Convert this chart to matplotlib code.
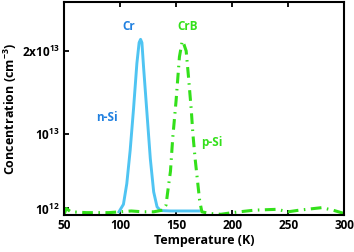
import numpy as np
import matplotlib
matplotlib.use('Agg')
import matplotlib.pyplot as plt

plt.rcParams['font.family'] = ['Open Sans', 'DejaVu Sans']
plt.rcParams['font.weight'] = 'bold'
plt.rcParams['mathtext.fontset'] = 'custom'
plt.rcParams['mathtext.bf'] = 'Open Sans:bold'
plt.rcParams['mathtext.rm'] = 'Open Sans:bold'

# Cr in n-Si (values in 1e12 cm^-3)
cr_t = [99, 103, 106, 109, 112, 115, 117, 118.3, 119.5, 121, 124, 127, 130, 133, 136, 145, 170]
cr_c = [0.6, 1.5, 4, 8, 13, 18.5, 21.0, 21.4, 21.0, 18, 12.5, 7, 3, 1.2, 0.75, 0.7, 0.7]

# CrB in p-Si (values in 1e12 cm^-3)
crb_t = [50, 52, 56, 70, 90, 100, 110, 120, 130, 138, 141, 143, 145, 147, 150, 153, 155.5,
         157, 159, 161, 163.5, 165, 167, 169, 171, 173, 180, 190, 200, 220, 240, 250, 260,
         280, 290, 300]
crb_c = [0.3, 1.0, 0.6, 0.5, 0.5, 0.6, 0.7, 0.6, 0.6, 0.8, 1.4, 3.5, 5.5, 9.5, 14, 19.3, 21.2,
         20.8, 20, 17, 13, 10, 7, 4.5, 2, 0.6, 0.4, 0.3, 0.5, 0.8, 0.9, 0.6, 0.8,
         1.1, 0.8, 0.4]

xticks = [50, 100, 150, 200, 250, 300]
yticks = [1e12, 1e13, 2e13]
ytick_labels = [r'$\mathbf{10^{12}}$', r'$\mathbf{10^{13}}$', r'$\mathbf{2x10^{13}}$']

blue_line = '#4fc4f2'
blue_text = '#2080e0'
green = '#33e01a'

fig = plt.figure(figsize=(3.54, 2.52), dpi=100)
ax = fig.add_axes([0.181, 0.147, 0.791, 0.845])

ax.plot(cr_t, np.array(cr_c) * 1e12, color=blue_line, lw=2.1)
ax.plot(crb_t, np.array(crb_c) * 1e12, color=green, lw=2.2, dashes=(3.5, 1.8, 0.5, 1.8))

ax.set_xlim(50, 300)
ax.set_ylim(0.22e12, 2.59e13)
ax.set_xticks(xticks)
ax.set_xticklabels([str(t) for t in xticks], fontsize=8.5, fontweight='bold')
ax.set_yticks(yticks)
ax.set_yticklabels(ytick_labels, fontsize=8.5)
ax.tick_params(direction='in', length=3.5, width=1.3, top=True, pad=3)
for s in ax.spines.values():
    s.set_linewidth(1.5)

ax.set_xlabel('Temperature (K)', fontsize=9, fontweight='bold', labelpad=1)
ax.set_ylabel(r'Concentration (cm$^{\mathbf{-3}}$)', fontsize=9, fontweight='bold', labelpad=2)

ax.text(108, 2.3e13, 'Cr', color=blue_text, fontsize=8.5, fontweight='bold', ha='center', va='center')
ax.text(88, 1.2e13, 'n-Si', color=blue_text, fontsize=8.5, fontweight='bold', ha='center', va='center')
ax.text(160, 2.3e13, 'CrB', color=green, fontsize=8.5, fontweight='bold', ha='center', va='center')
ax.text(182, 0.9e13, 'p-Si', color=green, fontsize=8.5, fontweight='bold', ha='center', va='center')

fig.savefig('out.png', dpi=100)
